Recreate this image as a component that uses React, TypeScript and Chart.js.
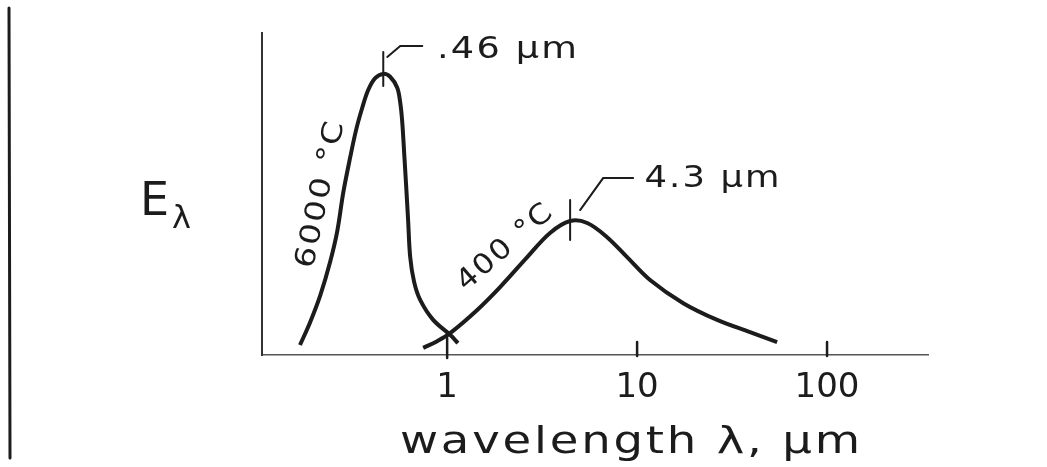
import React, { useEffect, useRef } from "react";
import { Chart, registerables } from "chart.js";

Chart.register(...registerables);

// 6000 °C curve (wavelength in µm, relative emissive power)
const hotLambda = [0.168, 0.19, 0.215, 0.242, 0.264, 0.284, 0.309, 0.332, 0.357, 0.384, 0.418, 0.461, 0.501, 0.546, 0.566, 0.58, 0.594, 0.608, 0.623, 0.639, 0.67, 0.721, 0.844, 1.04, 1.14];
const hotE = [3.1, 10.2, 18.6, 28.9, 38.5, 50.5, 61.5, 70.0, 76.7, 82.3, 86.0, 87.3, 86.4, 83.0, 78.5, 72.5, 62.7, 52.8, 41.9, 30.4, 22.7, 17.1, 10.9, 6.2, 3.7];

// 400 °C curve
const coolLambda = [0.748, 0.886, 1.037, 1.44, 1.9, 2.64, 3.48, 4.44, 5.46, 6.95, 8.86, 11.7, 17.5, 26.4, 39.3, 54.6];
const coolE = [2.2, 4.3, 6.8, 14.0, 21.1, 30.4, 37.9, 41.6, 41.0, 36.6, 30.4, 23.3, 16.1, 10.9, 7.1, 4.0];

const xTicks = [1, 10, 100];
const seriesLabels = ["6000 °C", "400 °C"];
const peakLabels = [".46 µm", "4.3 µm"];
const axisTitle = "wavelength λ, µm";
const yTitleMain = "E";
const yTitleSub = "λ";

const INK = "#1c1c1c";
const FONT = "'DejaVu Sans', sans-serif";

function peakIndex(arr: number[]) {
  let idx = 0;
  arr.forEach((v, i) => {
    if (v > arr[idx]) idx = i;
  });
  return idx;
}

function drawText(
  ctx: CanvasRenderingContext2D,
  text: string,
  x: number,
  y: number,
  size: number,
  width: number,
  angle = 0,
  baseline: CanvasTextBaseline = "middle"
) {
  ctx.save();
  ctx.translate(x, y);
  ctx.rotate(angle);
  ctx.font = `${size}px ${FONT}`;
  const ls = size * 0.06;
  (ctx as any).letterSpacing = `${ls}px`;
  const w = ctx.measureText(text).width - ls;
  const sx = width > 0 ? width / w : 1;
  ctx.scale(sx, 1);
  ctx.textAlign = "center";
  ctx.textBaseline = baseline;
  ctx.fillStyle = INK;
  ctx.fillText(text, ls / 2, 0);
  ctx.restore();
}

const sketchPlugin = {
  id: "sketch",
  afterDraw(chart: any) {
    const ctx: CanvasRenderingContext2D = chart.ctx;
    const xs = chart.scales.x;
    const area = chart.chartArea;
    ctx.save();
    ctx.strokeStyle = INK;
    ctx.lineCap = "round";

    // page edge line of the scan
    ctx.lineWidth = 3;
    ctx.beginPath();
    ctx.moveTo(9, 8);
    ctx.lineTo(10, 458);
    ctx.stroke();

    // inward tick marks on the x axis
    ctx.lineWidth = 2.5;
    xTicks.forEach((v, i) => {
      const px = xs.getPixelForValue(v);
      ctx.beginPath();
      ctx.moveTo(px, area.bottom - (i === 0 ? 17 : 13));
      ctx.lineTo(px, area.bottom + (i === 0 ? 3 : 1));
      ctx.stroke();
    });

    // peak markers with leaders
    const hotPk = chart.getDatasetMeta(0).data[peakIndex(hotE)];
    const coolPk = chart.getDatasetMeta(1).data[peakIndex(coolE)];
    ctx.lineWidth = 2;
    if (hotPk) {
      const { x, y } = hotPk;
      ctx.beginPath();
      ctx.moveTo(x, y - 22);
      ctx.lineTo(x, y + 12);
      ctx.stroke();
      ctx.beginPath();
      ctx.moveTo(x + 4, y - 17);
      ctx.lineTo(x + 17, y - 28);
      ctx.lineTo(x + 39, y - 28);
      ctx.stroke();
    }
    if (coolPk) {
      const { x, y } = coolPk;
      ctx.beginPath();
      ctx.moveTo(x, y - 21);
      ctx.lineTo(x, y + 19);
      ctx.stroke();
      ctx.beginPath();
      ctx.moveTo(x + 10, y - 11);
      ctx.lineTo(x + 33, y - 43);
      ctx.lineTo(x + 63, y - 43);
      ctx.stroke();
    }
    ctx.restore();

    // texts
    drawText(ctx, peakLabels[0], 507, 50, 30, 140);
    drawText(ctx, peakLabels[1], 712, 179, 30, 135);
    drawText(ctx, seriesLabels[0], 321, 195, 28, 149, (-78 * Math.PI) / 180);
    drawText(ctx, seriesLabels[1], 505, 248, 28, 117, (-41 * Math.PI) / 180);
    drawText(ctx, axisTitle, 630, 453, 38, 460, 0, "alphabetic");

    ctx.save();
    ctx.fillStyle = INK;
    ctx.textAlign = "left";
    ctx.textBaseline = "alphabetic";
    ctx.font = `46px ${FONT}`;
    ctx.fillText(yTitleMain, 140, 215);
    ctx.font = `32px ${FONT}`;
    ctx.fillText(yTitleSub, 172, 228);
    ctx.restore();
  },
};

export default function App() {
  const canvasRef = useRef<HTMLCanvasElement | null>(null);

  useEffect(() => {
    if (!canvasRef.current) return;
    const chart = new Chart(canvasRef.current, {
      type: "line",
      data: {
        datasets: [
          {
            label: seriesLabels[0],
            data: hotLambda.map((x, i) => ({ x, y: hotE[i] })),
            borderColor: INK,
            borderWidth: 4,
            pointRadius: 0,
            tension: 0.35,
            fill: false,
          },
          {
            label: seriesLabels[1],
            data: coolLambda.map((x, i) => ({ x, y: coolE[i] })),
            borderColor: INK,
            borderWidth: 4,
            pointRadius: 0,
            tension: 0.35,
            fill: false,
          },
        ],
      },
      options: {
        responsive: true,
        maintainAspectRatio: false,
        animation: false,
        layout: { padding: { top: 33, right: 119, left: 0, bottom: 0 } },
        plugins: {
          legend: { display: false },
          tooltip: { enabled: false },
        },
        scales: {
          x: {
            type: "logarithmic",
            min: 0.106,
            max: 340,
            bounds: "data",
            position: "bottom",
            grid: { display: false, drawTicks: false },
            border: { display: true, color: "#555", width: 1.5 },
            ticks: {
              color: INK,
              font: { family: "DejaVu Sans", size: 34 },
              padding: 13,
              autoSkip: false,
              maxRotation: 0,
              callback: (v: any) => String(v),
            },
            afterBuildTicks: (s: any) => {
              s.ticks = xTicks.map((v) => ({ value: v }));
            },
            afterFit: (s: any) => {
              s.height = 112;
            },
          },
          y: {
            type: "linear",
            min: 0,
            max: 100,
            grid: { display: false, drawTicks: false },
            ticks: { display: false },
            border: { display: true, color: "#333", width: 2 },
            afterFit: (s: any) => {
              s.width = 262;
            },
          },
        },
      },
      plugins: [sketchPlugin],
    } as any);
    return () => chart.destroy();
  }, []);

  return (
    <div
      style={{
        position: "absolute",
        left: 0,
        top: 0,
        width: 1047,
        height: 467,
        background: "#fff",
      }}
    >
      <canvas ref={canvasRef} />
    </div>
  );
}
